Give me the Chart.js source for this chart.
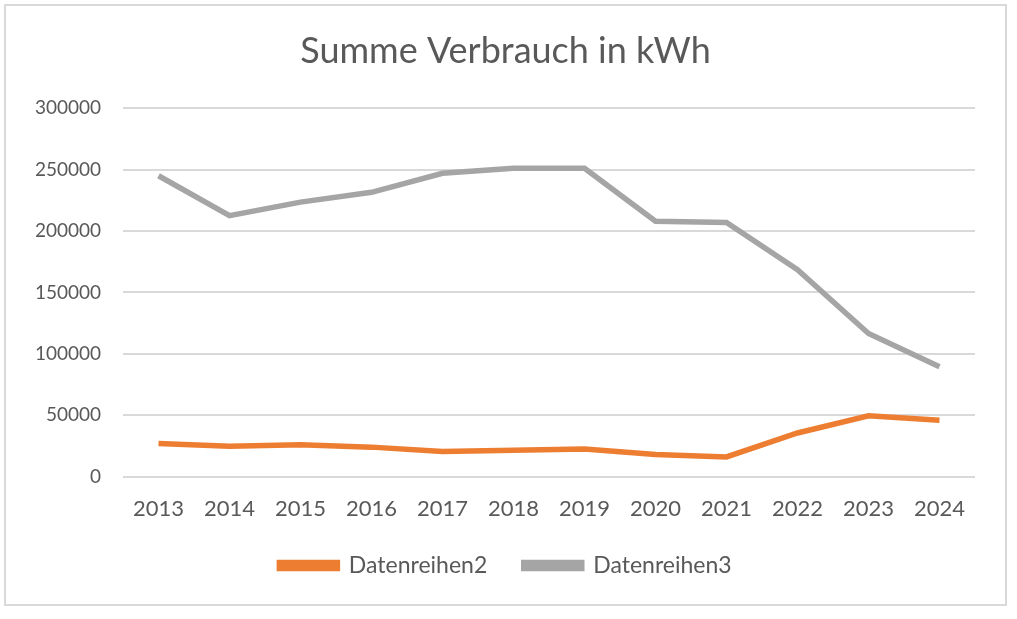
<!DOCTYPE html>
<html>
<head>
<meta charset="utf-8">
<script src="https://cdn.jsdelivr.net/npm/chart.js@4"></script>
<style>
  html, body { margin: 0; padding: 0; background: #fff; }
  #wrap { position: relative; width: 1017px; height: 619px; }
  #frame { position: absolute; left: 4px; top: 4px; width: 999px; height: 598px; border: 2px solid #d9d9d9; pointer-events: none; }
</style>
</head>
<body>
<div id="wrap">
  <canvas id="myChart" width="1017" height="619"></canvas>
  <div id="frame"></div>
</div>
<script>
var jahre = ['2013', '2014', '2015', '2016', '2017', '2018', '2019', '2020', '2021', '2022', '2023', '2024'];
var datenreihen2 = [27000, 24700, 26000, 24000, 20500, 21500, 22500, 18000, 16000, 35500, 49500, 45800];
var datenreihen3 = [245000, 212500, 223500, 231500, 247000, 251000, 251000, 208000, 207000, 168500, 116500, 89500];
var yTicks = [0, 50000, 100000, 150000, 200000, 250000, 300000];

var grau = '#595959';

var ctx = document.getElementById('myChart').getContext('2d');
var chart = new Chart(ctx, {
    type: 'line',
    data: {
        labels: jahre,
        datasets: [{
            label: 'Datenreihen2',
            data: datenreihen2,
            borderColor: '#ed7d31',
            backgroundColor: '#ed7d31',
            borderWidth: 5.5,
            pointRadius: 0,
            tension: 0
        },
        {
            label: 'Datenreihen3',
            data: datenreihen3,
            borderColor: '#a5a5a5',
            backgroundColor: '#a5a5a5',
            borderWidth: 5.5,
            pointRadius: 0,
            tension: 0
        }]
    },
    options: {
        responsive: false,
        animation: false,
        layout: {
            padding: { left: 36, right: 42, top: 0, bottom: 32 }
        },
        plugins: {
            title: {
                display: true,
                text: 'Summe Verbrauch in kWh',
                color: grau,
                font: { family: 'Lato', size: 36, weight: 'normal' },
                padding: { top: 30, bottom: 35 }
            },
            legend: {
                position: 'bottom',
                labels: {
                    color: grau,
                    font: { family: 'Lato', size: 23 },
                    boxWidth: 58,
                    boxHeight: 6,
                    padding: 13,
                    generateLabels: function (c) {
                        var items = Chart.defaults.plugins.legend.labels.generateLabels(c);
                        // etwas mehr Abstand zwischen den Eintraegen
                        items[0].text = items[0].text + '    ';
                        return items;
                    }
                }
            },
            tooltip: { enabled: false }
        },
        scales: {
            x: {
                offset: true,
                grid: { display: false, drawTicks: false },
                border: { display: false },
                ticks: {
                    color: grau,
                    font: { family: 'Lato', size: 22 },
                    padding: 19,
                    maxRotation: 0
                }
            },
            y: {
                min: 0,
                max: 300000,
                afterBuildTicks: function (scale) {
                    scale.ticks = yTicks.map(function (v) { return { value: v }; });
                },
                afterFit: function (scale) { scale.width = 87; },
                grid: { color: '#d9d9d9', lineWidth: 2, drawTicks: false },
                border: { display: false },
                ticks: {
                    color: grau,
                    font: { family: 'Lato', size: 19 },
                    padding: 22,
                    callback: function (v) { return String(v); }
                }
            }
        }
    }
});
</script>
</body>
</html>
